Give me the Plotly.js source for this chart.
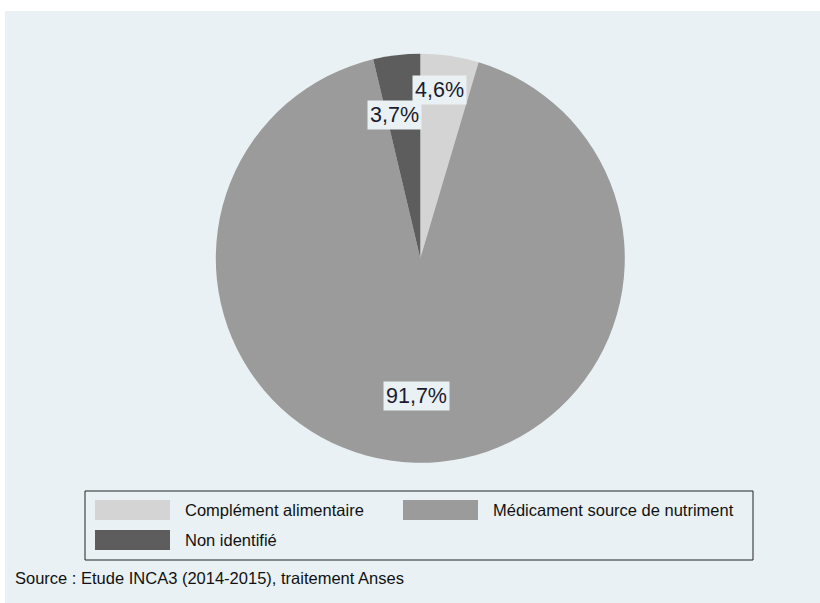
<!DOCTYPE html>
<html>
<head>
<meta charset="utf-8">
<script src="https://cdn.plot.ly/plotly-3.0.1.min.js"></script>
<style>html,body{margin:0;padding:0;background:#fff;}#chart{width:820px;height:603px;}</style>
</head>
<body>
<div id="chart"></div>
<script>
// ---- data ----
const categories = ["Complément alimentaire", "Médicament source de nutriment", "Non identifié"];
const values = [4.6, 91.7, 3.7];
const labels = ["4,6%", "91,7%", "3,7%"];
const colors = ["#d4d4d4", "#9b9b9b", "#5d5d5d"];

// ---- geometry (pixels) ----
const W = 820, H = 603;
const cx = 420.3, cy = 258.3, R = 204.5;
const bg = "#e9f1f4";
const px = x => x / W;
const py = y => 1 - y / H;
const FONT = "Liberation Sans, Arial, sans-serif";

// label radial positions (fraction of radius), per slice
const labelR = [0.83, 0.675, 0.71];
const labelAngOff = [-1.8, 0, -3.5];

const total = values.reduce((a, b) => a + b, 0);
const annotations = [];
let cum = 0;
values.forEach((v, i) => {
  const mid = (cum + v / 2) / total * 360 + labelAngOff[i];
  cum += v;
  const a = mid * Math.PI / 180;
  const lx = cx + Math.sin(a) * R * labelR[i];
  const ly = cy - Math.cos(a) * R * labelR[i];
  annotations.push({
    x: px(lx), y: py(ly), xref: "paper", yref: "paper",
    text: labels[i], showarrow: false,
    font: {family: FONT, size: 21.5, color: "#1b1b2f"},
    bgcolor: bg, borderpad: 2, xanchor: "center", yanchor: "middle"
  });
});

// custom legend
const shapes = [
  {type: "rect", xref: "paper", yref: "paper", x0: px(5), x1: px(820), y0: py(11), y1: py(603),
   fillcolor: bg, line: {width: 0}, layer: "below"},
  {type: "rect", xref: "paper", yref: "paper", x0: px(85), x1: px(753), y0: py(491), y1: py(560),
   fillcolor: "rgba(0,0,0,0)", line: {color: "#222", width: 1}, layer: "above"}
];
const legPos = [[95, 500], [403, 500], [95, 530]];
categories.forEach((c, i) => {
  const [lx, ly] = legPos[i];
  shapes.push({type: "rect", xref: "paper", yref: "paper", x0: px(lx), x1: px(lx + 75),
    y0: py(ly), y1: py(ly + 20), fillcolor: colors[i], line: {width: 0}, layer: "above"});
  annotations.push({x: px(lx + 88), y: py(ly + 10), xref: "paper", yref: "paper", text: c,
    showarrow: false, xanchor: "left", yanchor: "middle",
    font: {family: FONT, size: 16.5, color: "#111"}});
});
annotations.push({x: px(13), y: py(578), xref: "paper", yref: "paper",
  text: "Source : Etude INCA3 (2014-2015), traitement Anses", showarrow: false,
  xanchor: "left", yanchor: "middle",
  font: {family: FONT, size: 16.5, color: "#111"}});

const trace = {
  type: "pie", values: values, labels: categories,
  marker: {colors: colors, line: {width: 0}},
  sort: false, direction: "clockwise", rotation: 0,
  textinfo: "none", hoverinfo: "label+percent",
  domain: {x: [px(cx - R), px(cx + R)], y: [py(cy + R), py(cy - R)]}
};

Plotly.newPlot("chart", [trace], {
  width: W, height: H, margin: {l: 0, r: 0, t: 0, b: 0},
  paper_bgcolor: "#ffffff", showlegend: false,
  shapes: shapes, annotations: annotations
}, {displayModeBar: false, staticPlot: true});
</script>
</body>
</html>
